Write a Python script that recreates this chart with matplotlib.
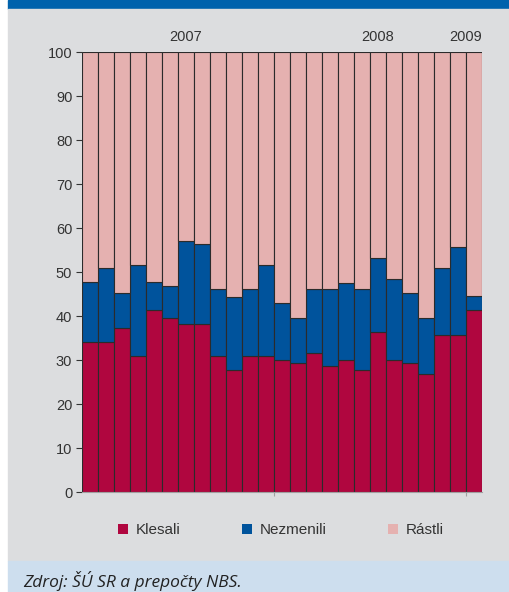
import numpy as np
import matplotlib
matplotlib.use("Agg")
from matplotlib import pyplot as plt
from matplotlib.patches import Rectangle, Patch

# data (monthly shares in %, 25 months)
klesali = [34.1, 34.1, 37.3, 30.9, 41.3, 39.5, 38.1, 38.1, 30.9, 27.8, 30.9, 30.9, 30.1,
           29.3, 31.7, 28.6, 30.1, 27.7, 36.4, 30.1, 29.3, 26.9, 35.7, 35.7, 41.3]
klesali_plus_nezmenili = [47.7, 50.8, 45.2, 51.6, 47.7, 46.9, 57.1, 56.4, 46.1, 44.4, 46.1, 51.6, 42.9,
                          39.5, 46.1, 46.1, 47.6, 46.1, 53.2, 48.4, 45.2, 39.5, 50.8, 55.6, 44.5]
years = ["2007", "2008", "2009"]
year_pos = [6, 18, 23.5]
year_bounds = [11.5, 23.5]
labels = ["Klesali", "Nezmenili", "Rástli"]
colors = ["#b0063f", "#00539c", "#e5b1b0"]

klesali = np.array(klesali)
nezmenili = np.array(klesali_plus_nezmenili) - klesali
rastli = 100 - klesali - nezmenili
x = np.arange(len(klesali))

plt.rcParams['font.family'] = ['Liberation Sans', 'DejaVu Sans']

fig = plt.figure(figsize=(5.10, 5.92), dpi=100)
fig.patch.set_facecolor("white")

# background bands
fig.add_artist(Rectangle((8/510, 1 - 9/592), 1, 9/592, transform=fig.transFigure,
                         color="#0062ac", zorder=0))
fig.add_artist(Rectangle((8/510, 31/592), 1, 1 - 40/592, transform=fig.transFigure,
                         color="#dcdddf", zorder=0))
fig.add_artist(Rectangle((8/510, 0), 1, 31/592, transform=fig.transFigure,
                         color="#cddeee", zorder=0))

ax = fig.add_axes([82/510, 100/592, 400/510, 440/592])
ax.set_facecolor("none")

edge = dict(edgecolor="#2b2b2b", linewidth=0.8, width=1.0)
ax.bar(x, klesali, color=colors[0], **edge)
ax.bar(x, nezmenili, bottom=klesali, color=colors[1], **edge)
ax.bar(x, rastli, bottom=klesali + nezmenili, color=colors[2], **edge)

ax.set_xlim(-0.5, len(x) - 0.5)
ax.set_ylim(0, 100)
ax.set_yticks(np.arange(0, 101, 10))
ax.tick_params(axis="y", length=4, width=0.8, color="#333333", labelsize=10.5,
               labelcolor="#333333", pad=3)
ax.set_xticks(year_bounds)
ax.set_xticklabels([])
ax.tick_params(axis="x", length=3, width=0.8, color="#a0a0a0")
for s in ["left", "right", "top"]:
    ax.spines[s].set_visible(False)
ax.spines["bottom"].set_color("#a0a0a0")
ax.spines["bottom"].set_linewidth(0.8)

for yr, p in zip(years, year_pos):
    ax.text(p, 103.3, yr, ha="center", va="center", fontsize=10.5, color="#333333",
            clip_on=False)

handles = [Patch(facecolor=c, edgecolor="none") for c in colors]
fig.legend(handles, labels, loc="center", bbox_to_anchor=(281/510, 1 - 530/592), ncol=3,
           frameon=False, fontsize=11, handlelength=0.65, handleheight=0.65,
           handletextpad=0.52, columnspacing=4.0, labelcolor="#333333",
           borderpad=0, borderaxespad=0)

fig.text(23/510, 1 - 581/592, "Zdroj: ŠÚ SR a prepočty NBS.", fontsize=12.5,
         fontstyle="italic", family=["Open Sans", "DejaVu Sans"], color="#222222",
         ha="left", va="center")

fig.savefig("out.png", dpi=100)
